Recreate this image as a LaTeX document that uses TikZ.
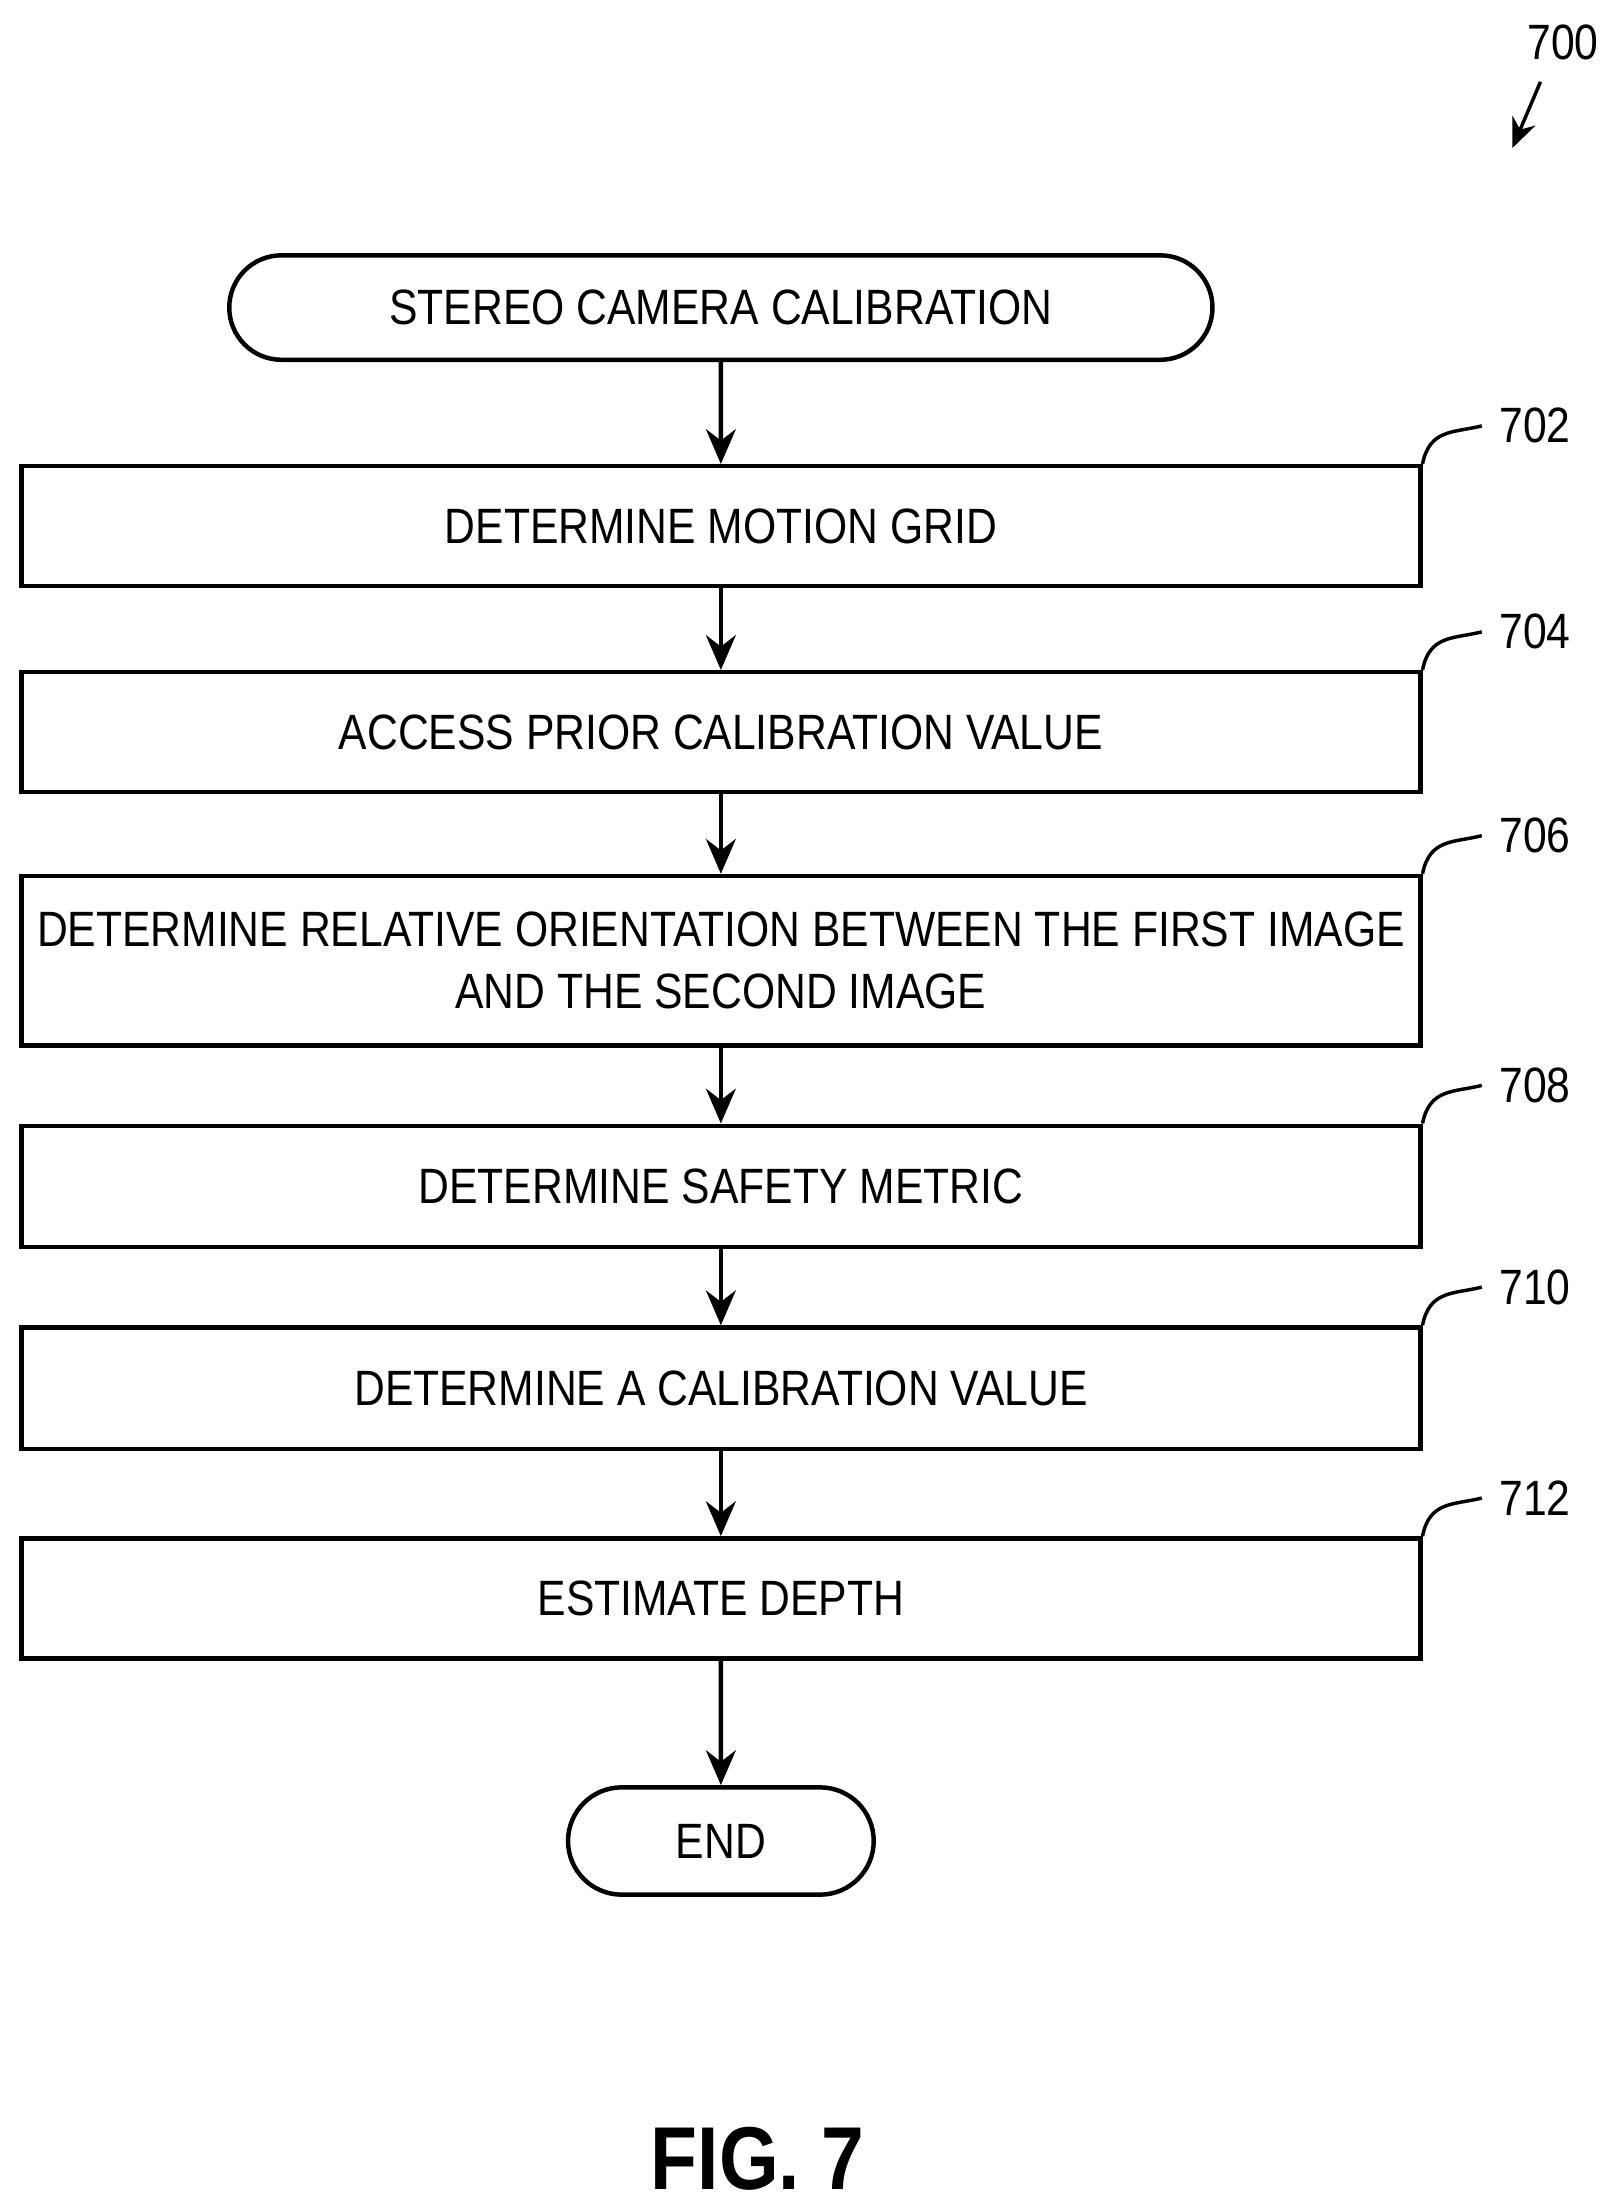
\documentclass[tikz,border=0pt]{standalone}
\usepackage{fontspec}
\setmainfont[FakeStretch=0.86]{Liberation Sans}
\usetikzlibrary{arrows.meta,positioning,shapes.misc}

\begin{document}
\begin{tikzpicture}[x=0.01cm, y=-0.01cm,
    stepbox/.style={draw, line width=0.9pt, font=\fontsize{10}{12.5}\selectfont, align=center, inner sep=0pt},
    term/.style={draw, line width=0.9pt, rounded rectangle, font=\fontsize{10}{12.5}\selectfont},
    flow/.style={-{Stealth[length=7pt, width=6pt]}, line width=0.9pt},
    tag/.style={font=\fontsize{10}{12}\selectfont}]
    \useasboundingbox (0,0) rectangle (1145,1568);

    % terminators
    \node[term, minimum width=7.2cm, minimum height=0.74cm] (start) at (511,218) {STEREO CAMERA CALIBRATION};
    \node[term, minimum width=2.4cm, minimum height=0.76cm] (end) at (511,1305) {END};

    % process steps
    \node[stepbox, minimum width=9.91cm, minimum height=0.85cm] (s702) at (511,373) {DETERMINE MOTION GRID};
    \node[stepbox, minimum width=9.91cm, minimum height=0.85cm] (s704) at (511,519) {ACCESS PRIOR CALIBRATION VALUE};
    \node[stepbox, minimum width=9.91cm, minimum height=1.20cm] (s706) at (511,681) {DETERMINE RELATIVE ORIENTATION BETWEEN THE FIRST IMAGE\\AND THE SECOND IMAGE};
    \node[stepbox, minimum width=9.91cm, minimum height=0.86cm] (s708) at (511,841) {DETERMINE SAFETY METRIC};
    \node[stepbox, minimum width=9.91cm, minimum height=0.86cm] (s710) at (511,984) {DETERMINE A CALIBRATION VALUE};
    \node[stepbox, minimum width=9.91cm, minimum height=0.85cm] (s712) at (511,1133) {ESTIMATE DEPTH};

    % connectors
    \draw[flow] (start) -- (s702);
    \draw[flow] (s702) -- (s704);
    \draw[flow] (s704) -- (s706);
    \draw[flow] (s706) -- (s708);
    \draw[flow] (s708) -- (s710);
    \draw[flow] (s710) -- (s712);
    \draw[flow] (s712) -- (end);

    % reference numerals
    \foreach \s/\n in {s702/702, s704/704, s706/706, s708/708, s710/710, s712/712} {
        \node[tag, anchor=west] (n\n) at ([shift={(42,-27)}]\s.north east) {\n};
        \draw[line width=0.7pt] (\s.north east) .. controls ++(5,-25) and ++(-20,5) .. (n\n.west);
    }

    % figure numeral
    \node[tag] (n700) at (1108,30) {700};
    \coordinate (p700) at (1072,105);
    \draw[-{Stealth[length=6pt, width=5pt]}, line width=0.7pt] (1092,58) -- (p700);

    \node[font=\bfseries\fontsize{18}{20}\selectfont] (fig) at (537,1530) {FIG. 7};
\end{tikzpicture}
\end{document}
